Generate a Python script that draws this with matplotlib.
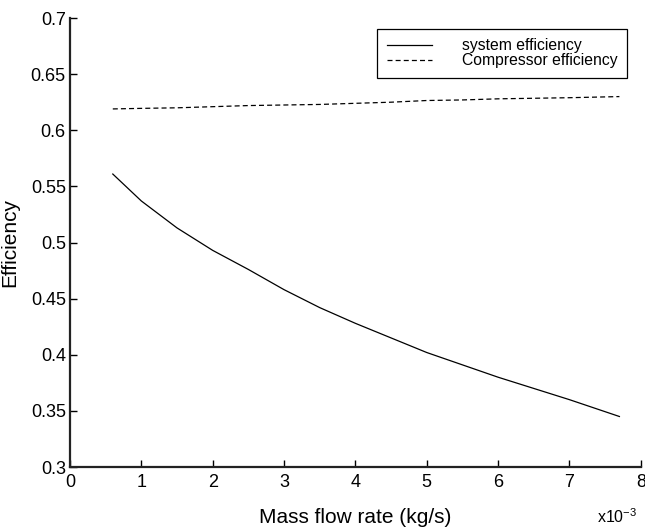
import matplotlib
matplotlib.use("Agg")
import matplotlib.pyplot as plt

plt.rcParams["font.family"] = ["Liberation Sans", "DejaVu Sans"]
plt.rcParams["mathtext.default"] = "regular"

# mass flow rate in units of 1e-3 kg/s
mass_flow = [0.6, 1.0, 1.5, 2.0, 2.5, 3.0, 3.5, 4.0, 4.5, 5.0, 5.5, 6.0, 6.5, 7.0, 7.7]
system_eff = [0.561, 0.537, 0.513, 0.493, 0.476, 0.458, 0.442, 0.428,
              0.415, 0.402, 0.391, 0.380, 0.370, 0.360, 0.345]
compressor_eff = [0.619, 0.6195, 0.620, 0.621, 0.622, 0.6225, 0.623, 0.624,
                  0.625, 0.6265, 0.627, 0.628, 0.6285, 0.629, 0.630]

x_ticks = [0, 1, 2, 3, 4, 5, 6, 7, 8]
y_ticks = [0.3, 0.35, 0.4, 0.45, 0.5, 0.55, 0.6, 0.65, 0.7]
y_tick_labels = ["0.3", "0.35", "0.4", "0.45", "0.5", "0.55", "0.6", "0.65", "0.7"]

fig = plt.figure(figsize=(6.45, 5.28), dpi=100)
ax = fig.add_axes([0.1085, 0.1155, 0.885, 0.8504])

ax.plot(mass_flow, system_eff, color="black", linewidth=0.9, label="system efficiency")
ax.plot(mass_flow, compressor_eff, color="black", linewidth=0.9, linestyle=(0, (4, 2.5)),
        label="Compressor efficiency")

ax.set_xlim(0, 8)
ax.set_ylim(0.3, 0.7)
ax.set_xticks(x_ticks)
ax.set_yticks(y_ticks)
ax.set_yticklabels(y_tick_labels)
ax.tick_params(direction="in", length=5, width=1, labelsize=13, colors="black")
ax.tick_params(axis="x", pad=5)
ax.tick_params(axis="y", pad=3)

for side in ("top", "right"):
    ax.spines[side].set_visible(False)
for side in ("left", "bottom"):
    ax.spines[side].set_linewidth(1.6)
    ax.spines[side].set_color("#222222")

ax.set_xlabel("Mass flow rate (kg/s)", fontsize=15, labelpad=12)
ax.set_ylabel("Efficiency", fontsize=15, labelpad=8)

leg = ax.legend(loc="upper right", bbox_to_anchor=(0.972, 0.945),
                bbox_transform=fig.transFigure, borderaxespad=0,
                fontsize=11.3, handlelength=2.9, handletextpad=1.9,
                labelspacing=0.0, borderpad=0.6, fancybox=False,
                framealpha=1)
leg.get_frame().set_edgecolor("black")
leg.get_frame().set_linewidth(0.9)

fig.text(0.926, 0.01, r"x10$^{-3}$", fontsize=11.5)

fig.savefig("out.png", dpi=100)
